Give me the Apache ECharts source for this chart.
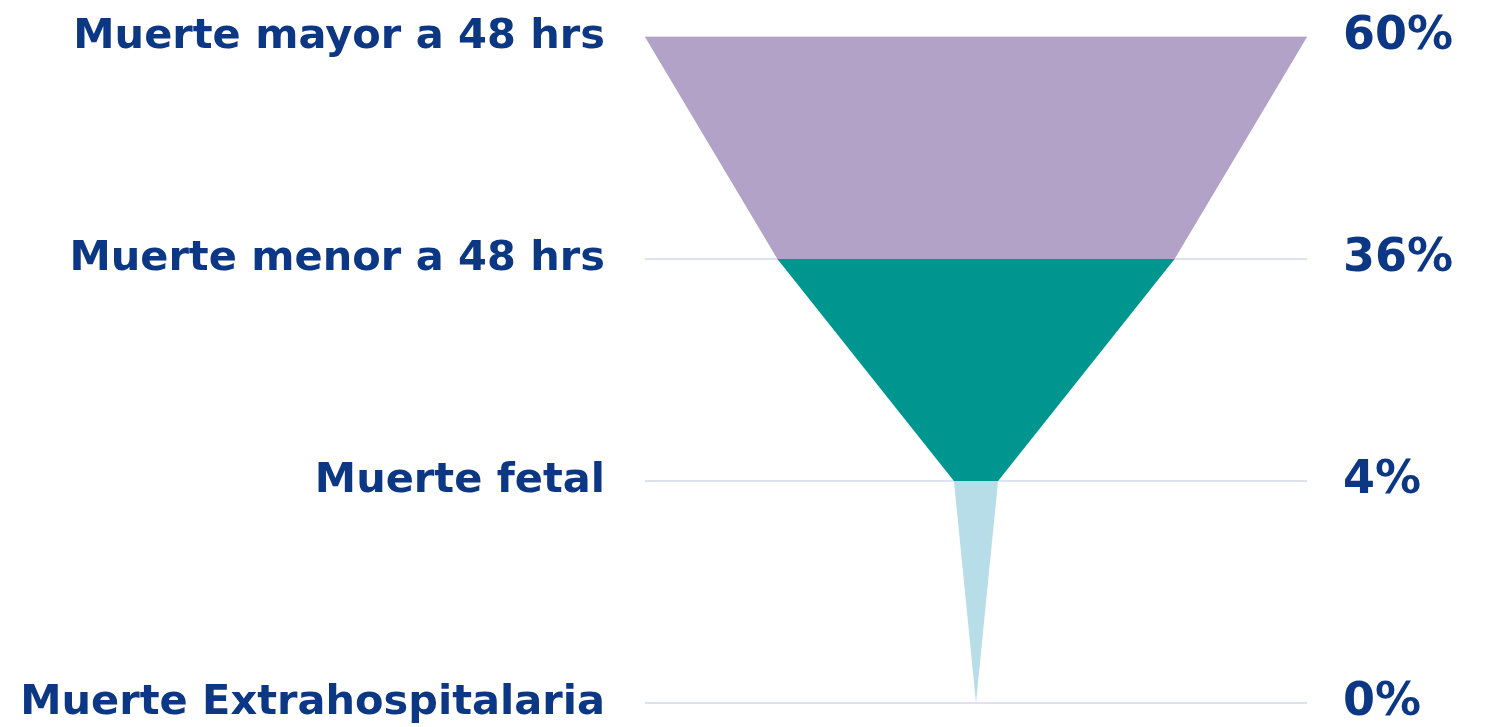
<!DOCTYPE html>
<html>
<head>
<meta charset="utf-8">
<style>
  html, body { margin: 0; padding: 0; background: #fff; }
  #chart { width: 1487px; height: 727px; }
</style>
<script src="https://cdn.jsdelivr.net/npm/echarts@6/dist/echarts.min.js"></script>
</head>
<body>
<div id="chart"></div>
<script>
let categories = ['Muerte mayor a 48 hrs', 'Muerte menor a 48 hrs', 'Muerte fetal', 'Muerte Extrahospitalaria'];
let values = [60, 36, 4, 0];
let colors = ['#b2a2c7', '#009690', '#b7dee8', '#b7dee8'];

let myChart = echarts.init(document.getElementById('chart'));

let gridTop = 37;
let gridHeight = 666;
let stepHeight = gridHeight / (categories.length - 1);

let funnelData = categories.map((name, i) => ({
	name: name,
	value: values[i],
	itemStyle: {
		color: colors[i],
		height: i < categories.length - 1 ? stepHeight : 0
	}
}));

let labelFont = {
	color: '#0c3784',
	fontFamily: 'DejaVu Sans',
	fontWeight: 'bold',
	fontSize: 41.5
};

option = {
	backgroundColor: '#fff',
	grid: {
		left: 645,
		right: 180,
		top: gridTop,
		height: gridHeight
	},
	xAxis: {
		type: 'value',
		min: 0,
		max: 1,
		show: false
	},
	yAxis: [
		{
			type: 'category',
			inverse: true,
			boundaryGap: false,
			data: categories,
			axisLine: { show: false },
			axisTick: { show: false },
			axisLabel: Object.assign({ margin: 40 }, labelFont),
			splitLine: {
				show: true,
				lineStyle: { color: '#dfe2ee', width: 2 }
			}
		},
		{
			type: 'category',
			position: 'right',
			inverse: true,
			boundaryGap: false,
			data: values.map(v => v + '%'),
			axisLine: { show: false },
			axisTick: { show: false },
			axisLabel: Object.assign({ margin: 36 }, labelFont, { fontSize: 46 }),
			splitLine: { show: false }
		}
	],
	series: [
		{
			type: 'funnel',
			left: 645,
			top: gridTop,
			width: 662,
			height: gridHeight,
			min: 0,
			max: 60,
			minSize: '0%',
			maxSize: '100%',
			sort: 'none',
			gap: 0,
			label: { show: false },
			labelLine: { show: false },
			itemStyle: { borderWidth: 0 },
			emphasis: { disabled: true },
			z: 3,
			data: funnelData
		}
	]
};

myChart.setOption(option);
</script>
</body>
</html>
